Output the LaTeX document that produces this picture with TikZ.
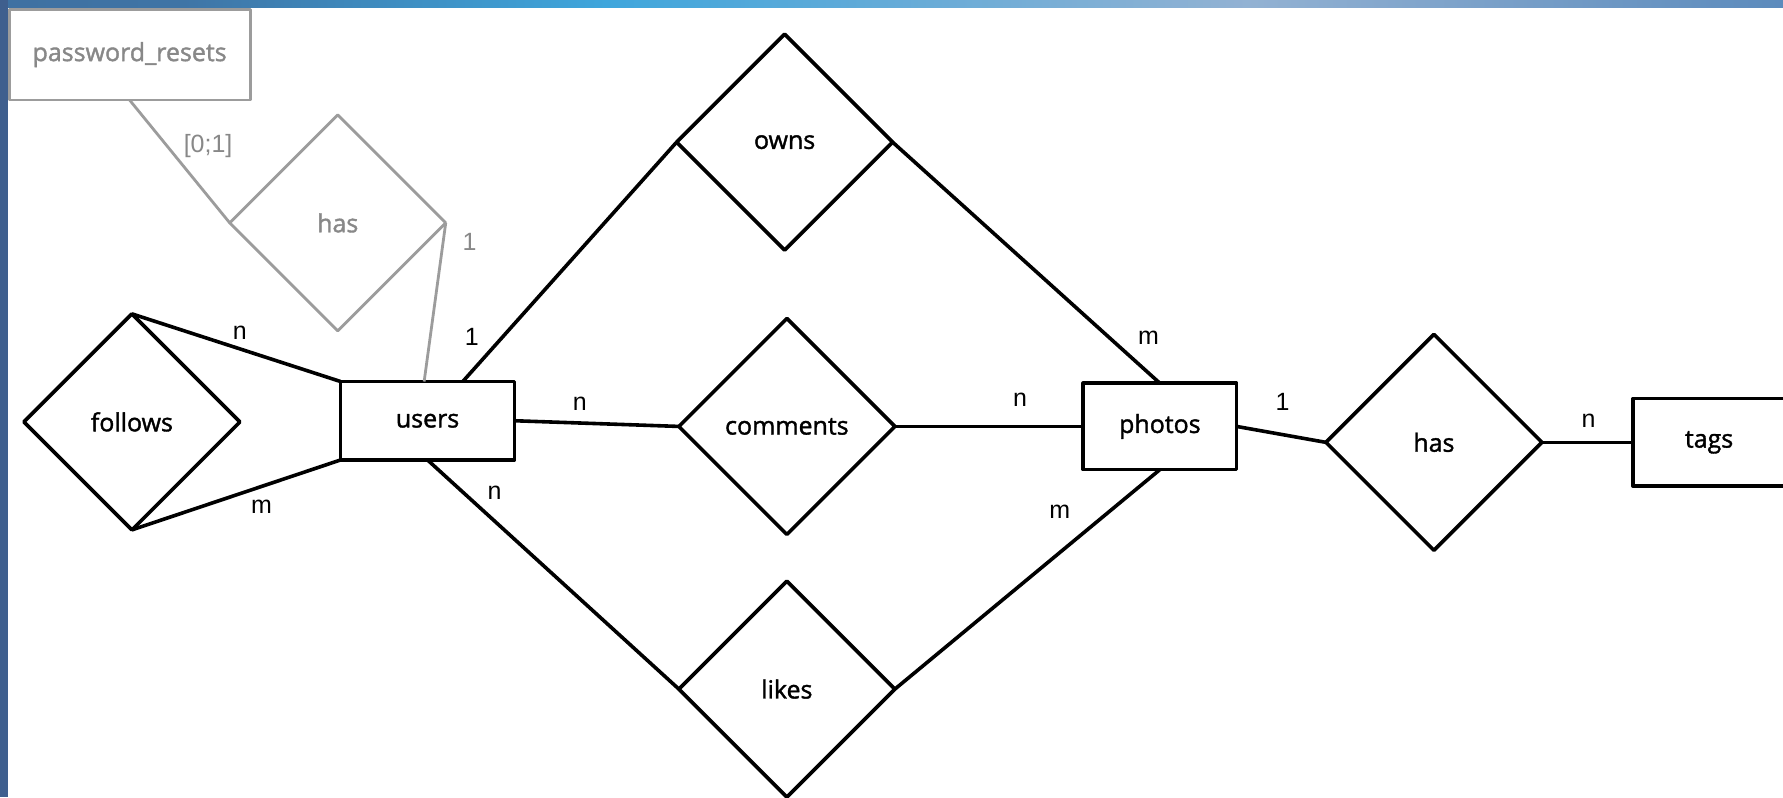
\documentclass[tikz,border=0pt]{standalone}
\usepackage{fontspec}
\usetikzlibrary{shapes.geometric,calc}
\newfontfamily\entfont[FakeBold=1.5]{Open Sans}
\newfontfamily\labfont{Liberation Sans}
\definecolor{graylines}{HTML}{9C9C9C}
\definecolor{graytext}{HTML}{888888}
\definecolor{bgdark}{HTML}{3F5F8E}
\definecolor{bgbright}{HTML}{3FA6DC}
\definecolor{bgmid}{HTML}{4A7EB5}
\pgfdeclarehorizontalshading{topstrip}{100bp}{color(0bp)=(bgdark); color(30bp)=(bgdark!70!bgbright); color(42bp)=(bgbright); color(60bp)=(bgmid!60!white); color(80bp)=(bgmid); color(100bp)=(bgmid)}
\begin{document}
\begin{tikzpicture}[x=0.02cm,y=-0.02cm,line join=round,
  entity/.style={draw,line width=1.8pt,fill=white,rectangle,inner sep=0pt,outer sep=0pt,
    font=\entfont\fontsize{12.5}{14}\selectfont},
  rel/.style={draw,line width=1.8pt,fill=white,diamond,aspect=1,minimum width=3.8cm,
    minimum height=3.8cm,inner sep=0pt,outer sep=0pt,font=\entfont\fontsize{12.5}{14}\selectfont},
  ghost/.style={draw=graylines,text=graytext,line width=1.4pt},
  link/.style={line width=1.8pt},
  glink/.style={draw=graylines,line width=1.4pt},
  card/.style={font=\labfont\fontsize{12.5}{14}\selectfont,inner sep=0pt},
  gcard/.style={card,text=graytext}]
\useasboundingbox (0,0) rectangle (1568,701);
\clip (0,0) rectangle (1568,701);
% background
\fill[white] (0,0) rectangle (1568,701);
\shade[shading=topstrip] (0,0) rectangle (1568,7);
\fill[bgdark] (0,0) rectangle (7,701);

% entities
\node[entity,ghost,minimum width=4.24cm,minimum height=1.6cm] (pr) at (114,48) {password\_resets};
\node[entity,minimum width=3.06cm,minimum height=1.38cm] (users) at (376,370) {users};
\node[entity,minimum width=2.7cm,minimum height=1.52cm] (photos) at (1020,375) {photos};
\node[entity,anchor=west,minimum width=2.68cm,minimum height=1.54cm] (tags) at (1436,389) {tags};

% relationships
\node[rel,ghost] (gh) at (297,196) {has};
\node[rel] (fol) at (116,371) {follows};
\node[rel] (owns) at (690,125) {owns};
\node[rel] (comm) at (692,375) {comments};
\node[rel] (likes) at (692,606) {likes};
\node[rel] (has) at (1261,389) {has};

% connectors
\draw[glink] (pr.south) -- (gh.west);
\draw[glink] (gh.east) -- ([xshift=-0.06cm]users.north);
\draw[link] (fol.north) -- (users.north west);
\draw[link] (fol.south) -- (users.south west);
\draw[link] ([xshift=0.62cm]users.north) -- (owns.west);
\draw[link] (users.east) -- (comm.west);
\draw[link] (users.south) -- (likes.west);
\draw[link] (owns.east) -- (photos.north);
\draw[link] (comm.east) -- (photos.west);
\draw[link] (photos.south) -- (likes.east);
\draw[link] (photos.east) -- (has.west);
\draw[link] (has.east) -- (tags.west);

% cardinalities
\node[gcard] (c01) at (183,128) {[0;1]};
\node[gcard] (cg1) at (413,213) {1};
\node[card] (cfn) at (211,293) {n};
\node[card] (cfm) at (230,446) {m};
\node[card] (cuo) at (415,296) {1};
\node[card] (cuc) at (510,355) {n};
\node[card] (cul) at (435,433) {n};
\node[card] (cpo) at (1010,297) {m};
\node[card] (cpc) at (897,352) {n};
\node[card] (cpl) at (932,450) {m};
\node[card] (cph) at (1128,353) {1};
\node[card] (cth) at (1397,370) {n};
\end{tikzpicture}
\end{document}
